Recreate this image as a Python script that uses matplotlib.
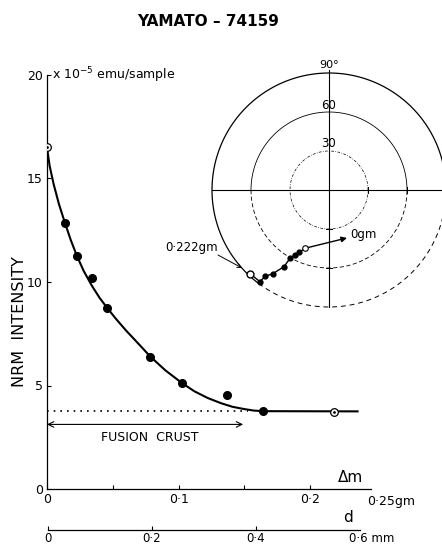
import matplotlib
matplotlib.use('Agg')
import matplotlib.pyplot as plt
import numpy as np

# NRM intensity vs removed mass (gm)
mass_meas = [0.0137, 0.0227, 0.0341, 0.0456, 0.0786, 0.1023, 0.1366, 0.164]
nrm_meas = [12.84, 11.26, 10.18, 8.76, 6.39, 5.13, 4.52, 3.77]
mass_open = [0.0, 0.218]
nrm_open = [16.5, 3.73]

# smooth curve
curve_mass = [0.0, 0.002, 0.005, 0.009, 0.0137, 0.018, 0.0227, 0.028, 0.034,
              0.040, 0.0456, 0.052, 0.060, 0.068, 0.0786, 0.090, 0.1023,
              0.112, 0.122, 0.132, 0.141, 0.150, 0.157, 0.164, 0.236]
curve_nrm = [16.5, 15.61, 14.74, 13.78, 12.84, 12.04, 11.26, 10.52, 9.83,
             9.23, 8.76, 8.25, 7.66, 7.12, 6.39, 5.73, 5.13,
             4.72, 4.40, 4.15, 3.97, 3.86, 3.79, 3.76, 3.75]

crust_level = 3.78
crust_end = 0.149

# direction path on the inset net (angle deg, radius in net units, 90 = rim)
dir_angle = [-69.4, -112.4, -115.5, -117.6, -119.7, -120.4, -123.9, -126.5, -127.0, -133.4]
dir_radius = [39.4, 48.5, 53.1, 56.4, 60.5, 68.4, 77.6, 82.6, 88.3, 88.5]

W, H = 442, 545
fig = plt.figure(figsize=(W / 100, H / 100), dpi=100)


def fbox(x0, y0, x1, y1):
    return [x0 / W, 1 - y1 / H, (x1 - x0) / W, (y1 - y0) / H]


ax = fig.add_axes(fbox(47, 75, 376, 489))
ax.set_xlim(0, 0.25)
ax.set_ylim(0, 20)
for s in ['top', 'right']:
    ax.spines[s].set_visible(False)
ax.spines['bottom'].set_bounds(0, 0.246)
for s in ['left', 'bottom']:
    ax.spines[s].set_linewidth(0.9)

ax.set_xticks([0, 0.1, 0.2])
ax.set_xticklabels(['0', '0·1', '0·2'])
ax.set_xticks([0.05, 0.15, 0.2], minor=True)
ax.set_yticks([0, 5, 10, 15, 20])
ax.tick_params(axis='both', direction='in', length=3, width=0.8, labelsize=9, pad=3)
ax.tick_params(axis='x', which='minor', direction='in', length=3, width=0.8)
ax.text(0.2435, -0.3, '0·25gm', fontsize=9, ha='left', va='top')
ax.text(0.2305, 0.55, 'Δm', fontsize=11, ha='center', va='center')

ax.plot(curve_mass, curve_nrm, color='black', lw=1.5, zorder=3,
        solid_joinstyle='round')
ax.plot(mass_meas, nrm_meas, 'o', color='black', ms=5.5, zorder=4)
ax.plot(mass_open, nrm_open, 'o', mfc='white', mec='black', mew=0.9, ms=5.5, zorder=4)
ax.plot(mass_open, nrm_open, '.', color='black', ms=2, zorder=5)
ax.plot([0, crust_end + 0.004], [crust_level, crust_level], color='black', lw=1.2,
        linestyle=(0, (1, 3)), zorder=2)
ax.annotate('', xy=(0, 3.12), xytext=(crust_end, 3.12),
            arrowprops=dict(arrowstyle='<->', lw=0.8, color='black', mutation_scale=10,
                            shrinkA=0, shrinkB=0))
ax.text(0.078, 2.5, 'FUSION  CRUST', fontsize=9, ha='center', va='center')

fig.text(20 / W, 1 - 322 / H, 'NRM  INTENSITY', rotation=90, fontsize=11.5,
         ha='center', va='center')
fig.text(52 / W, 1 - 75 / H, r'x 10$^{-5}$ emu/sample', fontsize=9, ha='left', va='center')
fig.text(208 / W, 1 - 22 / H, 'YAMATO – 74159', fontsize=11, weight='bold',
         ha='center', va='center')

# depth axis
axd = fig.add_axes(fbox(48, 529, 360, 530))
axd.set_xlim(0, 0.6)
axd.set_ylim(0, 1)
for s in ['top', 'right', 'left']:
    axd.spines[s].set_visible(False)
axd.spines['bottom'].set_linewidth(0.9)
axd.set_yticks([])
axd.set_xticks([0, 0.2, 0.4])
axd.set_xticklabels(['0', '0·2', '0·4'])
axd.tick_params(axis='x', direction='in', length=3, width=0.8, labelsize=8.5, pad=1.5)
axd.patch.set_visible(False)
fig.text(348 / W, 1 - 517 / H, 'd', fontsize=11, ha='center', va='center')
fig.text(349 / W, 1 - 532 / H, '0·6 mm', fontsize=8.5, ha='left', va='top')

# inset net
ax2 = fig.add_axes(fbox(160, 60, 459, 320))
ax2.set_xlim(-130, 100)
ax2.set_ylim(-100, 100)
ax2.axis('off')


def arc(r, a0, a1, **kw):
    t = np.radians(np.linspace(a0, a1, 200))
    ax2.plot(r * np.cos(t), r * np.sin(t), color='black', clip_on=False, **kw)


arc(90, 0, 233, lw=0.9)
arc(90, 233, 360, lw=0.7, linestyle=(0, (5, 4)))
arc(60, 0, 180, lw=0.6)
arc(60, 180, 360, lw=0.6, linestyle=(0, (5, 3)))
arc(30, 0, 360, lw=0.5, linestyle=(0, (4, 2, 1, 2)))
ax2.plot([-90, 100], [0, 0], color='black', lw=0.8, clip_on=False)
ax2.plot([0, 0], [-90, 92], color='black', lw=0.8, clip_on=False)
for v in [30, 60]:
    ax2.plot([v, v], [-2.5, 2.5], color='black', lw=0.7)
    ax2.plot([-2.5, 2.5], [-v, -v], color='black', lw=0.7)
ax2.text(0, 96, '90°', fontsize=8, ha='center', va='center')
ax2.text(0, 65, '60', fontsize=8.5, ha='center', va='center')
ax2.text(0, 36, '30', fontsize=8.5, ha='center', va='center')

ang = np.radians(dir_angle)
px = np.array(dir_radius) * np.cos(ang)
py = np.array(dir_radius) * np.sin(ang)
ax2.plot(px[1:], py[1:], color='black', lw=1.0, zorder=3)
ax2.annotate('', xy=(px[0], py[0]), xytext=(px[1], py[1]),
             arrowprops=dict(arrowstyle='-|>', lw=1.0, color='black', mutation_scale=8,
                             shrinkA=0, shrinkB=0))
ax2.plot(px[2:9], py[2:9], 'o', color='black', ms=3.5, zorder=4)
ax2.plot(px[1], py[1], 'o', mfc='white', mec='black', mew=0.8, ms=4, zorder=5)
ax2.plot(px[9], py[9], 'o', mfc='white', mec='black', mew=1.0, ms=5, zorder=5)
ax2.text(16, -34.6, '0gm', fontsize=8.5, ha='left', va='center')
ax2.text(-126, -44.6, '0·222gm', fontsize=8.5, ha='left', va='center', clip_on=False)
ax2.annotate('', xy=(-66.9, -60), xytext=(-85.4, -50),
             arrowprops=dict(arrowstyle='->', lw=0.7, color='black', mutation_scale=7,
                             shrinkA=0, shrinkB=0))

fig.savefig('out.png', dpi=100)
